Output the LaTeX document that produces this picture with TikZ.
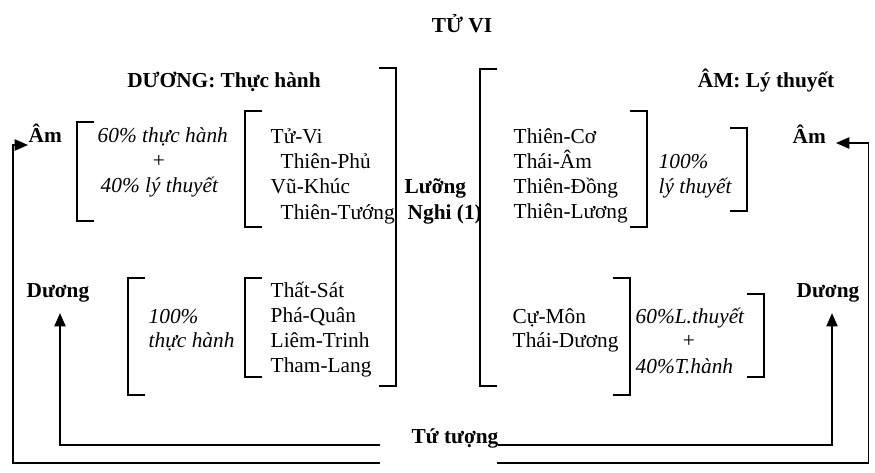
\documentclass[tikz,border=0pt]{standalone}
\usepackage{fontspec}
\setmainfont{Liberation Serif}
\usetikzlibrary{arrows.meta}
\newcommand{\opnbrk}[3]{\draw (#1+17,#2) -- (#1,#2) -- (#1,#3) -- (#1+17,#3);}
\newcommand{\clsbrk}[3]{\draw (#1-17,#2) -- (#1,#2) -- (#1,#3) -- (#1-17,#3);}

\begin{document}
\begin{tikzpicture}[x=0.75pt,y=-0.75pt,line width=1.1pt,
  txt/.style={font=\fontsize{16}{19}\selectfont,inner sep=0pt},
  head/.style={txt,font=\fontsize{16}{19}\selectfont\bfseries},
  note/.style={txt,font=\fontsize{16}{19}\selectfont\itshape},
  arr/.style={-{Triangle[length=10pt,width=8.5pt]}}]
\useasboundingbox (0,0) rectangle (875,472);

% headings
\node[head,anchor=base] (title) at (462,32) {TỬ VI};
\node[head,anchor=base] (duonghd) at (224,87) {DƯƠNG: Thực hành};
\node[head,anchor=base] (amhd) at (766,87) {ÂM: Lý thuyết};
\node[head,anchor=base west] (luong) at (404,193) {Lưỡng};
\node[head,anchor=base west] (nghi) at (407,219) {Nghi (1)};
\node[head,anchor=base west] (tutuong) at (411,443) {Tứ tượng};

% am / duong at the sides
\node[head,anchor=base west] (amL) at (28,142) {Âm};
\node[head,anchor=base] (duongL) at (58,297) {Dương};
\node[head,anchor=base west] (amR) at (792,143) {Âm};
\node[head,anchor=base] (duongR) at (828,297) {Dương};

% stars, left
\node[txt,anchor=base west] (tuvi) at (270,143) {Tử-Vi};
\node[txt,anchor=base west] (thienphu) at (280,168) {Thiên-Phủ};
\node[txt,anchor=base west] (vukhuc) at (270,193) {Vũ-Khúc};
\node[txt,anchor=base west] (thientuong) at (280,219) {Thiên-Tướng};
\node[txt,anchor=base west] (thatsat) at (270,297) {Thất-Sát};
\node[txt,anchor=base west] (phaquan) at (270,322) {Phá-Quân};
\node[txt,anchor=base west] (liemtrinh) at (270,347) {Liêm-Trinh};
\node[txt,anchor=base west] (thamlang) at (270,372) {Tham-Lang};

% stars, right
\node[txt,anchor=base west] (thienco) at (513,143) {Thiên-Cơ};
\node[txt,anchor=base west] (thaiam) at (513,168) {Thái-Âm};
\node[txt,anchor=base west] (thiendong) at (513,193) {Thiên-Đồng};
\node[txt,anchor=base west] (thienluong) at (513,218) {Thiên-Lương};
\node[txt,anchor=base west] (cumon) at (512,323) {Cự-Môn};
\node[txt,anchor=base west] (thaiduong) at (512,347) {Thái-Dương};

% shares
\node[note,anchor=base west] (thA) at (97,142) {60\% thực hành};
\node[txt,anchor=base] (plusA) at (159,167) {+};
\node[note,anchor=base west] (ltA) at (100,192) {40\% lý thuyết};
\node[note,anchor=base west] (thB) at (148,323) {100\%};
\node[note,anchor=base west] (thB2) at (148,347) {thực hành};
\node[note,anchor=base west] (ltB) at (658,168) {100\%};
\node[note,anchor=base west] (ltB2) at (658,193) {lý thuyết};
\node[note,anchor=base west] (ltC) at (635,323) {60\%L.thuyết};
\node[txt,anchor=base] (plusC) at (689,347) {+};
\node[note,anchor=base west] (thC) at (635,373) {40\%T.hành};

% brackets
\opnbrk{77}{122}{221}
\opnbrk{245}{111}{227}
\opnbrk{128}{278}{395}
\opnbrk{245}{278}{377}
\clsbrk{396}{68}{386}
\opnbrk{480}{69}{386}
\clsbrk{647}{111}{227}
\clsbrk{747}{128}{211}
\clsbrk{630}{278}{395}
\clsbrk{764}{294}{377}

% arrows from tu tuong
\coordinate (tuLi) at (380,445);
\coordinate (tuLo) at (380,463);
\coordinate (tuRi) at (498,445);
\coordinate (tuRo) at (497,463);
\draw[arr] (tuLi) -| ([xshift=1.5pt,yshift=-8pt]duongL.south);
\draw[arr] (tuRi) -| ([xshift=3pt,yshift=-8pt]duongR.south);
\draw[arr] (tuLo) -| ([xshift=-11.25pt,yshift=-2.25pt]amL.base west) -- ([yshift=-2.25pt]amL.base west);
\draw[arr] (tuRo) -| ([xshift=31.5pt]amR.base east) -- ([xshift=7pt]amR.base east);
\end{tikzpicture}
\end{document}
